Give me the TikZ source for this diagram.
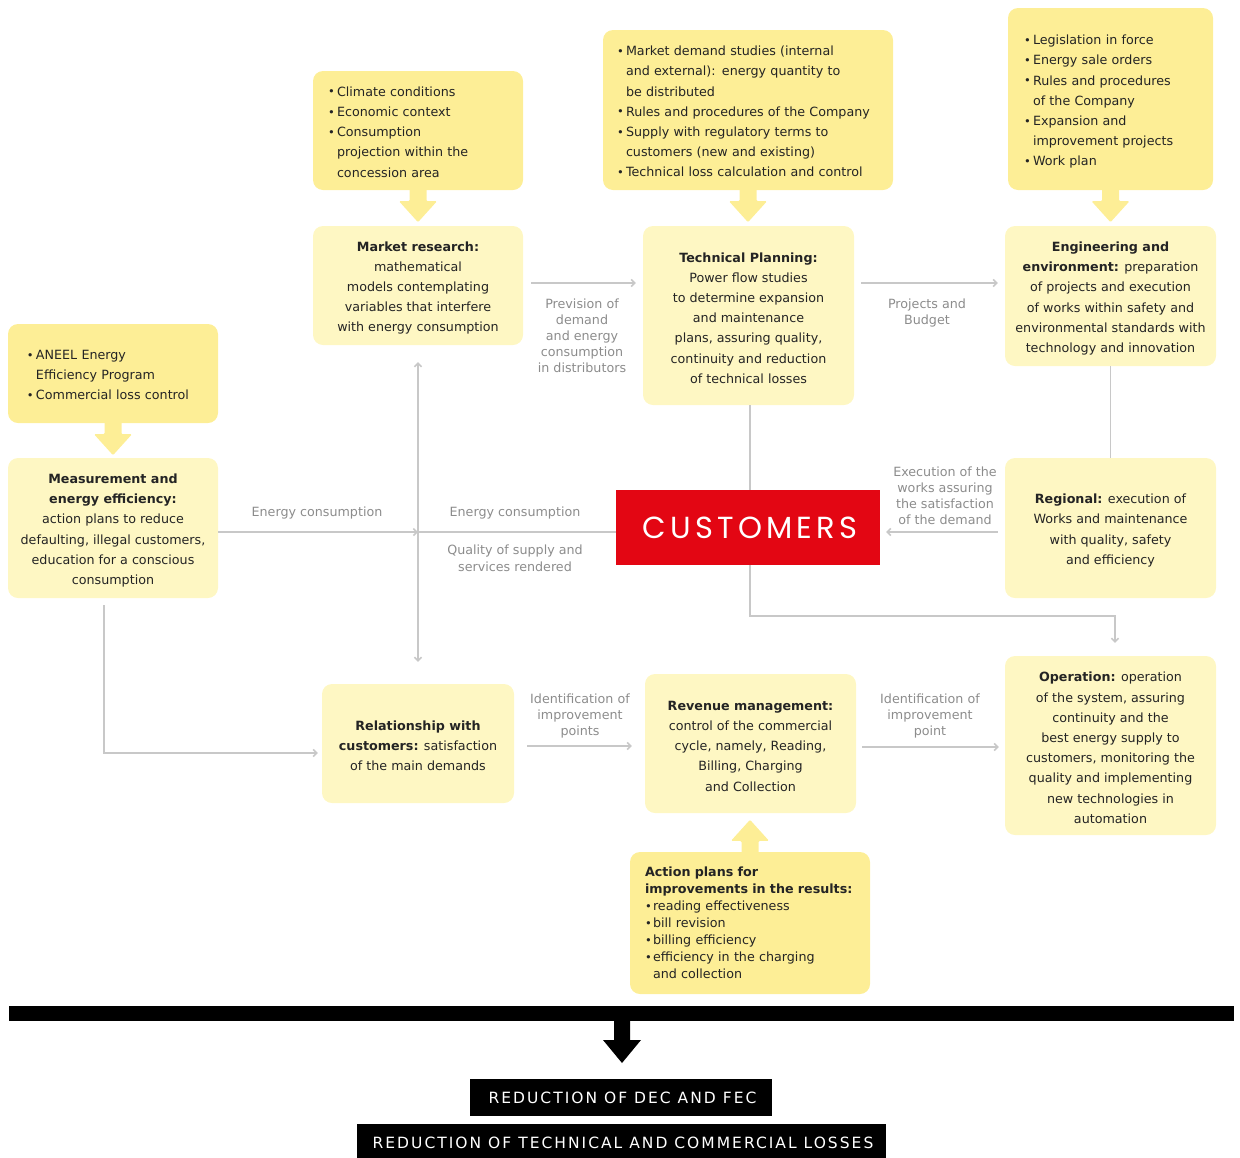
\documentclass[tikz,border=0pt]{standalone}
\usepackage{fontspec}
\setmainfont{DejaVu Sans}
\newfontfamily\custfont{Poppins}
\usetikzlibrary{arrows.meta,calc}

\definecolor{boxlight}{HTML}{FEF7C3}
\definecolor{boxdark}{HTML}{FDEE96}
\definecolor{linegray}{HTML}{C8C8C8}
\definecolor{labelgray}{HTML}{8C8C8C}
\definecolor{textdark}{HTML}{242424}
\definecolor{custred}{HTML}{E30613}

\newcommand\bxfont{\fontsize{12.7}{20.2}\selectfont}
\newcommand\actfont{\fontsize{12.7}{17}\selectfont}
\newcommand\lbfont{\fontsize{12.7}{16}\selectfont}
\newcommand\dkfont{\fontsize{15.5}{17}\selectfont\addfontfeature{LetterSpace=13}}
\newcommand\bl{\makebox[9pt][l]{\raisebox{0.4pt}{\scalebox{0.9}{•}}}}
\newcommand\blsm{\makebox[8pt][l]{\raisebox{0.4pt}{\scalebox{0.9}{•}}}}
\newcommand\ii{\hspace*{9pt}}
% extra room above the first line of a box
\newcommand\toprule{\rule{0pt}{14.5pt}}
\newcommand\toprow{\rule{0pt}{18.5pt}}

\tikzset{
  base/.style={rounded corners=10pt, inner ysep=0pt, text=textdark, font=\bxfont},
  mainbox/.style={base, fill=boxlight, align=center, inner xsep=0pt},
  notebox/.style={base, fill=boxdark, align=left},
  conn/.style={draw=linegray, line width=1.6pt, -{Straight Barb[length=3.5pt,width=7pt]}},
  bothconn/.style={draw=linegray, line width=1.6pt, {Straight Barb[length=3.5pt,width=7pt]}-{Straight Barb[length=3.5pt,width=7pt]}},
  plainconn/.style={draw=linegray, line width=1.6pt},
  lbl/.style={text=labelgray, font=\lbfont, align=center, inner sep=0pt},
  darkbox/.style={fill=black, text=white, inner sep=0pt, font=\dkfont},
  pics/downblk/.style={code={
    \fill[boxdark, rounded corners=1.2pt] (-8.5,-2) -- (8.5,-2) -- (8.5,11) -- (19,11)
      -- (0,32) -- (-19,11) -- (-8.5,11) -- cycle;}},
  pics/blackblk/.style={code={
    \fill[black] (-8,-1) -- (8,-1) -- (8,19) -- (19,19) -- (0,42) -- (-19,19) -- (-8,19) -- cycle;}},
}

\begin{document}
\begin{tikzpicture}[x=1pt,y=-1pt]
\useasboundingbox (0,0) rectangle (1240,1157);

% input notes
\node[notebox, text width=180pt, inner xsep=15pt, minimum height=119pt] (clim) at (418,130.5) {%
\begin{tabular}{@{}l@{}}
\toprow\bl Climate conditions\\
\bl Economic context\\
\bl Consumption\\
\ii projection within the\\
\ii concession area
\end{tabular}};

\node[notebox, text width=262pt, inner xsep=14pt, minimum height=160pt] (mkt) at (748,110) {%
\begin{tabular}{@{}l@{}}
\toprow\bl Market demand studies (internal\\
\ii and external): energy quantity to\\
\ii be distributed\\
\bl Rules and procedures of the Company\\
\bl Supply with regulatory terms to\\
\ii customers (new and existing)\\
\bl Technical loss calculation and control
\end{tabular}};

\node[notebox, text width=173pt, inner xsep=16pt, minimum height=182pt] (leg) at (1110.5,99) {%
\begin{tabular}{@{}l@{}}
\toprow\bl Legislation in force\\
\bl Energy sale orders\\
\bl Rules and procedures\\
\ii of the Company\\
\bl Expansion and\\
\ii improvement projects\\
\bl Work plan
\end{tabular}};

\node[notebox, text width=172pt, inner xsep=19pt, minimum height=99pt] (aneel) at (113,373.5) {%
\begin{tabular}{@{}l@{}}
\toprow\bl ANEEL Energy\\
\ii Efficiency Program\\
\bl Commercial loss control
\end{tabular}};

\node[notebox, font=\actfont, text width=210pt, inner xsep=15pt, minimum height=142pt] (act) at (750,923) {%
\begin{tabular}{@{}l@{}}
\rule{0pt}{15pt}\textbf{Action plans for}\\
\textbf{improvements in the results:}\\
\blsm reading effectiveness\\
\blsm bill revision\\
\blsm billing efficiency\\
\blsm efficiency in the charging\\
\hspace*{8pt}and collection
\end{tabular}};

% process boxes
\node[mainbox, minimum width=210pt, minimum height=119pt] (mr) at (418,285.5)
  {\toprule\textbf{Market research:}\\ mathematical\\ models contemplating\\ variables that interfere\\ with energy consumption};
\node[mainbox, minimum width=211pt, minimum height=179pt] (tp) at (748.5,315.5)
  {\toprule\textbf{Technical Planning:}\\ Power flow studies\\ to determine expansion\\ and maintenance\\ plans, assuring quality,\\ continuity and reduction\\ of technical losses};
\node[mainbox, minimum width=211pt, minimum height=140pt] (eng) at (1110.5,296)
  {\toprule\textbf{Engineering and}\\ \textbf{environment:} preparation\\ of projects and execution\\ of works within safety and\\ environmental standards with\\ technology and innovation};
\node[mainbox, minimum width=210pt, minimum height=140pt] (meas) at (113,528)
  {\toprule\textbf{Measurement and}\\ \textbf{energy efficiency:}\\ action plans to reduce\\ defaulting, illegal customers,\\ education for a conscious\\ consumption};
\node[mainbox, minimum width=211pt, minimum height=140pt] (reg) at (1110.5,528)
  {\toprule\textbf{Regional:} execution of\\ Works and maintenance\\ with quality, safety\\ and efficiency};
\node[mainbox, minimum width=192pt, minimum height=119pt] (rel) at (418,743.5)
  {\toprule\textbf{Relationship with}\\ \textbf{customers:} satisfaction\\ of the main demands};
\node[mainbox, minimum width=211pt, minimum height=139pt] (rev) at (750.5,743.5)
  {\toprule\textbf{Revenue management:}\\ control of the commercial\\ cycle, namely, Reading,\\ Billing, Charging\\ and Collection};
\node[mainbox, minimum width=211pt, minimum height=179pt] (oper) at (1110.5,745.5)
  {\toprule\textbf{Operation:} operation\\ of the system, assuring\\ continuity and the\\ best energy supply to\\ customers, monitoring the\\ quality and implementing\\ new technologies in\\ automation};

% central node
\node[fill=custred, text=white, inner sep=0pt, minimum width=264pt, minimum height=75pt,
      font={\custfont\fontsize{30.5}{32}\selectfont\addfontfeature{LetterSpace=14}}] (cust) at (748,527.5) {\hspace*{4pt}CUSTOMERS};

% block arrows from the notes
\pic at (clim.south) {downblk};
\pic at (mkt.south) {downblk};
\pic at (leg.south) {downblk};
\pic at (aneel.south) {downblk};
\pic[yscale=-1] at (act.north) {downblk};

% connectors
\draw[conn] ([xshift=8pt,yshift=2.5pt]mr.east) -- ([xshift=-7pt,yshift=32.5pt]tp.west);
\draw[conn] ([xshift=7pt,yshift=32.5pt]tp.east) -- ([xshift=-7pt,yshift=13pt]eng.west);
\draw[plainconn] (eng.south) -- (reg.north);
\draw[plainconn] ([xshift=1.5pt]tp.south) -- ([xshift=2pt]cust.north);
\draw[conn] ([xshift=-7pt,yshift=-4pt]reg.west) -- ([xshift=6pt,yshift=-4.5pt]cust.east);
\coordinate (cross) at (418,532);
\draw[conn] ([yshift=-4pt]meas.east) -- (cross);
\draw[plainconn] (cross) -- ([yshift=-4.5pt]cust.west);
\draw[bothconn] ([yshift=-17pt]mr.south) -- ([yshift=22pt]rel.north);
\coordinate (opin) at ([xshift=4.5pt,yshift=13pt]oper.north);
\draw[conn] ([xshift=2pt]cust.south) -- ++(0,51) -| (opin);
\draw[conn] ([xshift=-9pt,yshift=-7pt]meas.south) |- ([xshift=-4pt,yshift=-9.5pt]rel.west);
\draw[conn] ([xshift=13pt,yshift=-2.5pt]rel.east) -- ([xshift=-13pt,yshift=-2.5pt]rev.west);
\draw[conn] ([xshift=6pt,yshift=-3.5pt]rev.east) -- ([xshift=-6pt,yshift=-1.5pt]oper.west);

% connector labels
\node[lbl] (l1) at (582,336) {Prevision of\\demand\\and energy\\consumption\\in distributors};
\node[lbl] (l2) at (927,313) {Projects and\\Budget};
\node[lbl] (l3) at (945,496) {Execution of the\\works assuring\\the satisfaction\\of the demand};
\node[lbl] (l4) at (317,513) {Energy consumption};
\node[lbl] (l5) at (515,513) {Energy consumption};
\node[lbl, font=\fontsize{12.7}{17}\selectfont] (l6) at (515,558.5) {Quality of supply and\\services rendered};
\node[lbl] (l7) at (580,715.5) {Identification of\\improvement\\points};
\node[lbl] (l8) at (930,715.5) {Identification of\\improvement\\point};

% results
\node[fill=black, inner sep=0pt, minimum width=1225pt, minimum height=15pt] (bar) at (621.5,1013.5) {};
\pic at (622,1021) {blackblk};
\node[darkbox, minimum width=302pt, minimum height=37pt] (dec) at (621,1097.5) {\hspace*{3pt}REDUCTION OF DEC AND FEC};
\node[darkbox, minimum width=529pt, minimum height=37pt] (loss) at (621.5,1142.5) {\hspace*{3pt}REDUCTION OF TECHNICAL AND COMMERCIAL LOSSES};
\end{tikzpicture}
\end{document}
